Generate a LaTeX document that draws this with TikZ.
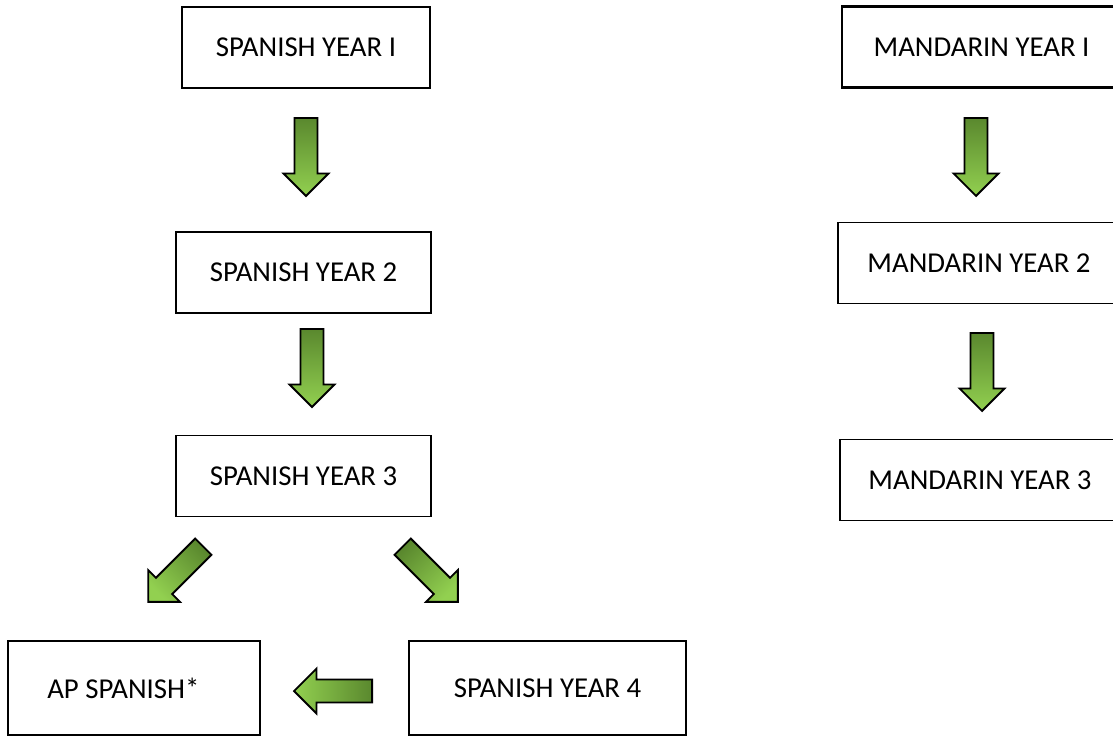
\documentclass[tikz,border=0pt]{standalone}
\usepackage{fontspec}
\setmainfont{Carlito}
\usetikzlibrary{shapes.arrows}
\definecolor{leafdark}{RGB}{90,136,46}
\definecolor{leaflight}{RGB}{146,208,80}
\tikzset{
  course/.style={draw=black, line width=1.1pt, fill=white, inner sep=0pt,
    minimum height=60.75pt, font=\fontsize{21.6}{26}\selectfont},
  firstcourse/.style={course, line width=2.2pt},
  blockarrow/.style 2 args={single arrow, draw=black, line width=1.4pt,
    left color=leafdark, right color=leaflight, inner xsep=0pt, inner ysep=7.9pt,
    single arrow head extend=8.25pt, single arrow tip angle=90, minimum height=58.5pt,
    anchor=tail, rotate=#1, shading angle=#2}
}
\begin{document}
\begin{tikzpicture}[x=0.75pt, y=-0.75pt]
\clip (0,0) rectangle (1113,736);
\node[firstcourse, minimum width=186pt] (span1) at (306,47.5) {SPANISH YEAR I};
\node[course, minimum width=191.25pt] (span2) at (303.5,272.5) {SPANISH YEAR 2};
\node[course, minimum width=191.25pt] (span3) at (303.5,476) {SPANISH YEAR 3};
\node[course, minimum width=189pt, minimum height=70.5pt] (apspan) at (134,688) {AP SPANISH*\hspace*{16pt}};
\node[course, minimum width=207.75pt, minimum height=70.5pt] (span4) at (547.5,688) {SPANISH YEAR 4};
\node[firstcourse, minimum width=209.25pt] (mand1) at (981.5,47) {MANDARIN YEAR I};
\node[course, minimum width=211.5pt] (mand2) at (979,263) {MANDARIN YEAR 2};
\node[course, minimum width=210pt] (mand3) at (980,480) {MANDARIN YEAR 3};
\node[blockarrow={-90}{0}] (down1) at (306,117) {};
\node[blockarrow={-90}{0}] (down2) at (312,328) {};
\node[blockarrow={-135}{-45}] (toap) at (204,546) {};
\node[blockarrow={-45}{45}] (tofour) at (402,546) {};
\node[blockarrow={180}{270}] (back) at (373,691) {};
\node[blockarrow={-90}{0}] (down3) at (976,117) {};
\node[blockarrow={-90}{0}] (down4) at (982,332) {};
\end{tikzpicture}
\end{document}
